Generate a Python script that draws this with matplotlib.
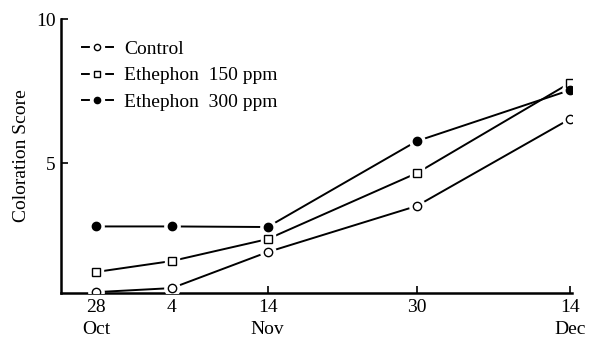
import matplotlib
matplotlib.use('Agg')
import matplotlib.pyplot as plt
from matplotlib.lines import Line2D

# data (x = days after 28 Oct, as placed on the chart)
days = [0, 7.5, 17, 31.8, 47]
tick_labels = ['28\nOct', '4', '14\nNov', '30', '14\nDec']
control = [0.52, 0.66, 1.91, 3.51, 6.53]
eth150 = [1.22, 1.60, 2.36, 4.65, 7.78]
eth300 = [2.80, 2.80, 2.78, 5.76, 7.53]
series_names = ['Control', 'Ethephon  150 ppm', 'Ethephon  300 ppm']

plt.rcParams['font.family'] = ['Liberation Serif', 'DejaVu Serif']

fig = plt.figure(figsize=(5.97, 3.43), dpi=100)
ax = fig.add_axes([0.1022, 0.1458, 0.958 - 0.1022, 0.9446 - 0.1458])

styles = [
    dict(marker='o', mfc='white', mec='black', ms=6.0),
    dict(marker='s', mfc='white', mec='black', ms=5.5),
    dict(marker='o', mfc='black', mec='black', ms=6.0),
]
handles = []
for vals, st, name in zip([control, eth150, eth300], styles, series_names):
    ax.plot(days, vals, color='black', lw=1.4, zorder=2, solid_capstyle='butt')
    ax.plot(days, vals, linestyle='none', marker=st['marker'], ms=st['ms'] + 5,
            mfc='white', mec='white', zorder=3)
    ax.plot(days, vals, linestyle='none', marker=st['marker'], ms=st['ms'],
            mfc=st['mfc'], mec=st['mec'], mew=1.0, zorder=4)
    h_line = Line2D([], [], color='black', lw=1.4)
    h_halo = Line2D([], [], linestyle='none', marker=st['marker'], ms=st['ms'] + 4,
                    mfc='white', mec='white')
    h_mark = Line2D([], [], linestyle='none', marker=st['marker'], ms=st['ms'] - 1.5,
                    mfc=st['mfc'], mec=st['mec'], mew=1.0)
    handles.append((h_line, h_halo, h_mark))

ax.set_xlim(-3.5, 47.2)
ax.set_ylim(0.49, 10)
ax.set_xticks(days)
ax.set_xticklabels(tick_labels)
for lab in ax.get_xticklabels():
    lab.set_linespacing(1.45)
ax.set_yticks([5, 10])
ax.set_yticklabels(['5', '10'])

for s in ['top', 'right']:
    ax.spines[s].set_visible(False)
for s in ['left', 'bottom']:
    ax.spines[s].set_linewidth(1.8)

ax.tick_params(axis='both', direction='in', length=5, width=1.2, labelsize=14,
               colors='black')
ax.tick_params(axis='x', pad=4)
ax.tick_params(axis='y', pad=4)

ax.set_ylabel('Coloration Score', fontsize=14, labelpad=4)

leg = ax.legend(handles, series_names, loc='upper left', bbox_to_anchor=(0.025, 0.95),
                frameon=False, fontsize=14, handlelength=1.6, handletextpad=0.6,
                labelspacing=0.45, borderaxespad=0)

fig.savefig('out.png', dpi=100)
